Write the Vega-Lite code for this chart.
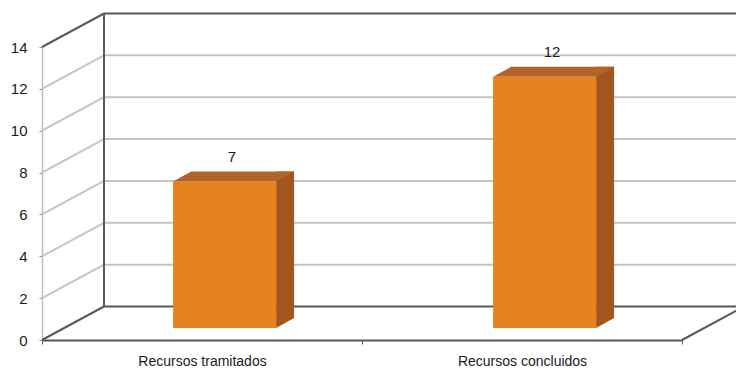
{
  "$schema": "https://vega.github.io/schema/vega-lite/v6.json",
  "width": 640,
  "height": 293,
  "autosize": {"type": "none"},
  "padding": {"left": 42, "top": 47, "right": 54, "bottom": 30},
  "background": "white",
  "config": {
    "view": {"stroke": null},
    "font": "Liberation Sans, Arial, sans-serif",
    "axisY": {
      "domainColor": "#bfbfbf",
      "domainWidth": 1.5,
      "tickColor": "#8c8c8c",
      "tickSize": 3,
      "labelFontSize": 15,
      "labelColor": "#1a1a1a",
      "labelPadding": 12,
      "grid": false,
      "values": [0, 2, 4, 6, 8, 10, 12, 14]
    }
  },
  "datasets": {
    "bars": [
      {"categoria": "Recursos tramitados", "valor": 7},
      {"categoria": "Recursos concluidos", "valor": 12}
    ],
    "grid": [
      {"v": 0}, {"v": 2}, {"v": 4}, {"v": 6}, {"v": 8}, {"v": 10}, {"v": 12}, {"v": 14}
    ]
  },
  "resolve": {"scale": {"x": "independent"}},
  "layer": [
    {
      "data": {"name": "grid"},
      "mark": {"type": "rule", "strokeWidth": 2, "xOffset": 62, "x2Offset": 62, "yOffset": -33.5, "y2Offset": -33.5},
      "encoding": {
        "x": {"datum": 0, "type": "quantitative", "scale": {"domain": [0, 2], "nice": false}, "axis": null},
        "x2": {"datum": 2},
        "y": {"field": "v", "type": "quantitative", "title": null, "scale": {"domain": [0, 14], "nice": false}},
        "y2": {"field": "v"},
        "color": {"condition": {"test": "datum.v == 0 || datum.v == 14", "value": "#595959"}, "value": "#c4c4c4"}
      }
    },
    {
      "data": {"name": "grid"},
      "mark": {"type": "rule", "strokeWidth": 2, "x2Offset": 62, "y2Offset": -33.5},
      "encoding": {
        "x": {"datum": 0, "type": "quantitative", "scale": {"domain": [0, 2], "nice": false}, "axis": null},
        "x2": {"datum": 0},
        "y": {"field": "v", "type": "quantitative", "title": null},
        "y2": {"field": "v"},
        "color": {"condition": {"test": "datum.v == 0 || datum.v == 14", "value": "#595959"}, "value": "#c4c4c4"}
      }
    },
    {
      "data": {"values": [{}]},
      "mark": {"type": "rule", "strokeWidth": 2, "color": "#595959", "xOffset": 62, "yOffset": -33.5, "y2Offset": -33.5},
      "encoding": {
        "x": {"datum": 0, "type": "quantitative", "scale": {"domain": [0, 2], "nice": false}, "axis": null},
        "y": {"datum": 0, "type": "quantitative", "title": null},
        "y2": {"datum": 14}
      }
    },
    {
      "data": {"values": [{}]},
      "mark": {"type": "rule", "strokeWidth": 2, "color": "#595959", "x2Offset": 62, "y2Offset": -33.5},
      "encoding": {
        "x": {"datum": 2, "type": "quantitative", "scale": {"domain": [0, 2], "nice": false}, "axis": null},
        "x2": {"datum": 2},
        "y": {"datum": 0, "type": "quantitative", "title": null},
        "y2": {"datum": 0}
      }
    },
    {
      "data": {"name": "bars"},
      "layer": [
        {
          "mark": {"type": "bar", "width": 18, "color": "#a3561f", "xOffset": 83.1, "yOffset": -22, "y2Offset": -22},
          "encoding": {
            "y2": {"datum": 0}
          }
        },
        {
          "mark": {"type": "point", "shape": "M0,0L0,-10L18,-10Z", "size": 4, "filled": true, "color": "#a3561f", "opacity": 1, "strokeWidth": 0, "xOffset": 74.1, "yOffset": -12},
          "encoding": {
            "y": {"datum": 0, "type": "quantitative", "title": null}
          }
        },
        {
          "mark": {"type": "point", "shape": "M0,0L18,-10L121,-10L103,0Z", "size": 4, "filled": true, "color": "#b1632a", "opacity": 1, "strokeWidth": 0, "xOffset": -28.9, "yOffset": -12}
        },
        {
          "mark": {"type": "bar", "width": 103, "color": "#e6821f", "xOffset": 22.6, "yOffset": -12, "y2Offset": -12},
          "encoding": {
            "y2": {"datum": 0}
          }
        },
        {
          "mark": {"type": "text", "fontSize": 15, "color": "#1a1a1a", "xOffset": 30, "yOffset": -37},
          "encoding": {
            "text": {"field": "valor", "type": "quantitative"}
          }
        }
      ],
      "encoding": {
        "x": {
          "field": "categoria",
          "type": "nominal",
          "sort": null,
          "scale": {"paddingInner": 0, "paddingOuter": 0},
          "axis": {
            "title": null,
            "tickBand": "extent",
            "domainColor": "#595959",
            "domainWidth": 2,
            "tickColor": "#595959",
            "tickSize": 4,
            "labelFontSize": 14,
            "labelColor": "#1a1a1a",
            "labelPadding": 10,
            "labelAngle": 0
          }
        },
        "y": {
          "field": "valor",
          "type": "quantitative",
          "title": null,
          "scale": {"domain": [0, 14], "nice": false}
        }
      }
    }
  ]
}
